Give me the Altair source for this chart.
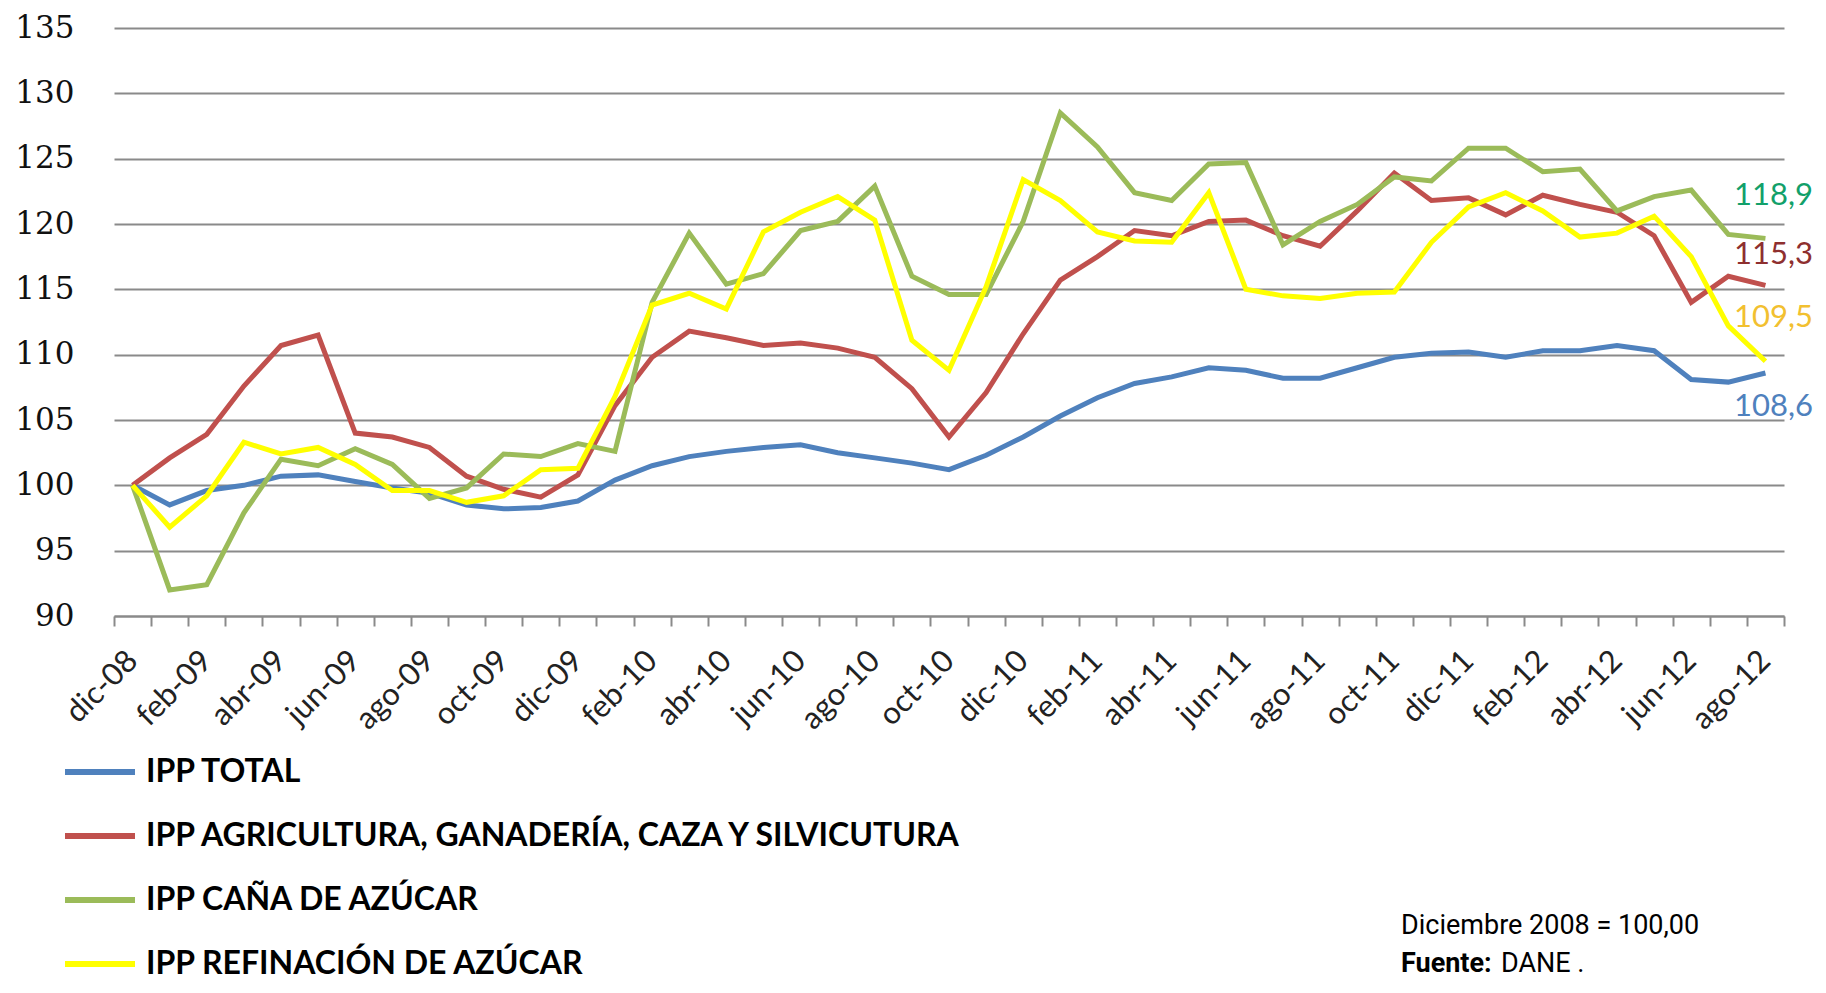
import altair as alt
import pandas as pd

months = [
    "dic-08",
    "ene-09", "feb-09", "mar-09", "abr-09", "may-09", "jun-09", "jul-09", "ago-09", "sep-09", "oct-09", "nov-09", "dic-09",
    "ene-10", "feb-10", "mar-10", "abr-10", "may-10", "jun-10", "jul-10", "ago-10", "sep-10", "oct-10", "nov-10", "dic-10",
    "ene-11", "feb-11", "mar-11", "abr-11", "may-11", "jun-11", "jul-11", "ago-11", "sep-11", "oct-11", "nov-11", "dic-11",
    "ene-12", "feb-12", "mar-12", "abr-12", "may-12", "jun-12", "jul-12", "ago-12",
]

series_names = [
    "IPP TOTAL",
    "IPP AGRICULTURA, GANADERÍA, CAZA Y SILVICUTURA",
    "IPP CAÑA DE AZÚCAR",
    "IPP REFINACIÓN DE AZÚCAR",
]
series_colors = ["#4F81BD", "#C0504D", "#9BBB59", "#FFFF00"]
label_colors = ["#4F81BD", "#8E2F2F", "#12A06A", "#F2C030"]

ipp_total = [
    100.0, 98.5, 99.6, 100.0, 100.7, 100.8, 100.3, 99.8, 99.4, 98.5, 98.2, 98.3, 98.8,
    100.4, 101.5, 102.2, 102.6, 102.9, 103.1, 102.5, 102.1, 101.7, 101.2, 102.3, 103.7,
    105.3, 106.7, 107.8, 108.3, 109.0, 108.8, 108.2, 108.2, 109.0, 109.8, 110.1, 110.2,
    109.8, 110.3, 110.3, 110.7, 110.3, 108.1, 107.9, 108.6,
]
ipp_agricultura = [
    100.0, 102.1, 103.9, 107.6, 110.7, 111.5, 104.0, 103.7, 102.9, 100.7, 99.7, 99.1, 100.8,
    106.1, 109.8, 111.8, 111.3, 110.7, 110.9, 110.5, 109.8, 107.4, 103.7, 107.1, 111.6,
    115.7, 117.5, 119.5, 119.1, 120.2, 120.3, 119.1, 118.3, 121.0, 123.9, 121.8, 122.0,
    120.7, 122.2, 121.5, 120.9, 119.1, 114.0, 116.0, 115.3,
]
ipp_cana = [
    100.0, 92.0, 92.4, 97.9, 102.0, 101.5, 102.8, 101.6, 99.0, 99.8, 102.4, 102.2, 103.2,
    102.6, 114.0, 119.3, 115.4, 116.2, 119.5, 120.2, 122.9, 116.0, 114.6, 114.6, 120.2,
    128.5, 125.9, 122.4, 121.8, 124.6, 124.7, 118.4, 120.2, 121.5, 123.6, 123.3, 125.8,
    125.8, 124.0, 124.2, 121.0, 122.1, 122.6, 119.2, 118.9,
]
ipp_refinacion = [
    100.0, 96.8, 99.2, 103.3, 102.4, 102.9, 101.6, 99.6, 99.6, 98.7, 99.2, 101.2, 101.3,
    106.8, 113.8, 114.7, 113.5, 119.4, 120.9, 122.1, 120.3, 111.1, 108.8, 115.2, 123.4,
    121.8, 119.4, 118.7, 118.6, 122.4, 115.0, 114.5, 114.3, 114.7, 114.8, 118.6, 121.3,
    122.4, 121.0, 119.0, 119.3, 120.6, 117.5, 112.2, 109.5,
]
y_ticks = [90, 95, 100, 105, 110, 115, 120, 125, 130, 135]
note_line1 = "Diciembre 2008 = 100,00"
note_bold = "Fuente:"
note_rest = "DANE ."

all_values = [ipp_total, ipp_agricultura, ipp_cana, ipp_refinacion]
rows = []
for k, (name, vals) in enumerate(zip(series_names, all_values)):
    for m, v in zip(months, vals):
        rows.append({"mes": m, "serie": name, "valor": v, "orden": k})
df = pd.DataFrame(rows)

W, H = 1670, 588

x_enc = alt.X(
    "mes:N",
    sort=months,
    bandPosition=0.5,
    scale=alt.Scale(type="band", paddingInner=0, paddingOuter=0),
    axis=alt.Axis(
        title=None,
        tickBand="extent",
        labelExpr="test(/^(dic|feb|abr|jun|ago|oct)/, datum.value) ? datum.value : ''",
        labelAngle=-45,
        labelAlign="right",
        labelBaseline="middle",
        labelFont="Lato",
        labelFontSize=31,
        labelColor="#222222",
        labelPadding=30,
        labelOverlap=False,
        labelBound=False,
        domainColor="#8a8a8a",
        domainWidth=2,
        tickColor="#8a8a8a",
        tickWidth=2,
        tickSize=10,
        grid=False,
    ),
)
y_enc = alt.Y(
    "valor:Q",
    scale=alt.Scale(domain=[90, 135], nice=False, zero=False),
    axis=alt.Axis(
        title=None,
        values=y_ticks,
        labelFont="DejaVu Serif",
        labelFontSize=31,
        labelColor="#111111",
        labelPadding=40,
        ticks=False,
        domain=False,
        grid=True,
        gridColor="#8a8a8a",
        gridWidth=2,
    ),
)

lines = alt.Chart(df).mark_line(strokeWidth=5).encode(
    x=x_enc,
    y=y_enc,
    color=alt.Color(
        "serie:N",
        sort=series_names,
        scale=alt.Scale(domain=series_names, range=series_colors),
        legend=alt.Legend(
            title=None,
            orient="none",
            legendX=-52,
            legendY=712,
            direction="vertical",
            symbolType="stroke",
            symbolStrokeWidth=6,
            symbolSize=4900,
            labelFont="Lato",
            labelFontWeight="bold",
            labelFontSize=32,
            labelColor="#000000",
            labelLimit=2000,
            labelOffset=8,
            rowPadding=0,
            clipHeight=64,
        ),
    ),
    order=alt.Order("orden:Q"),
)

offsets = [(8, 34), (8, -30), (8, -42), (8, -43)]
end_layers = []
for name, col, (dx, dy) in zip(series_names, label_colors, offsets):
    end_layers.append(
        alt.Chart(df)
        .transform_filter(alt.datum.serie == name)
        .transform_filter(alt.datum.mes == months[-1])
        .transform_calculate(txt="replace(format(datum.valor, '.1f'), '.', ',')")
        .mark_text(font="Lato", fontSize=31, color=col, dx=dx, dy=dy, align="center", baseline="middle")
        .encode(x=alt.X("mes:N", sort=months, bandPosition=0.5), y="valor:Q", text="txt:N")
    )

note_df = pd.DataFrame({"a": [note_line1], "b": [note_bold], "c": [note_rest]})
note1 = alt.Chart(note_df).mark_text(
    font="Roboto", fontSize=27, align="left", baseline="middle", color="#000000"
).encode(x=alt.value(1287), y=alt.value(898), text="a:N")
note2 = alt.Chart(note_df).mark_text(
    font="Roboto", fontSize=27, fontWeight="bold", align="left", baseline="middle", color="#000000"
).encode(x=alt.value(1287), y=alt.value(936), text="b:N")
note3 = alt.Chart(note_df).mark_text(
    font="Roboto", fontSize=27, align="left", baseline="middle", color="#000000"
).encode(x=alt.value(1387), y=alt.value(936), text="c:N")

chart = (
    alt.layer(lines, *end_layers, note1, note2, note3)
    .properties(
        width=W,
        height=H,
        autosize=alt.AutoSizeParams(type="none"),
        padding={"left": 106, "top": 20, "right": 30, "bottom": 369},
        background="#ffffff",
    )
    .configure_view(stroke=None)
)

chart.save("out.html", embed_options={"renderer": "svg", "actions": False})
